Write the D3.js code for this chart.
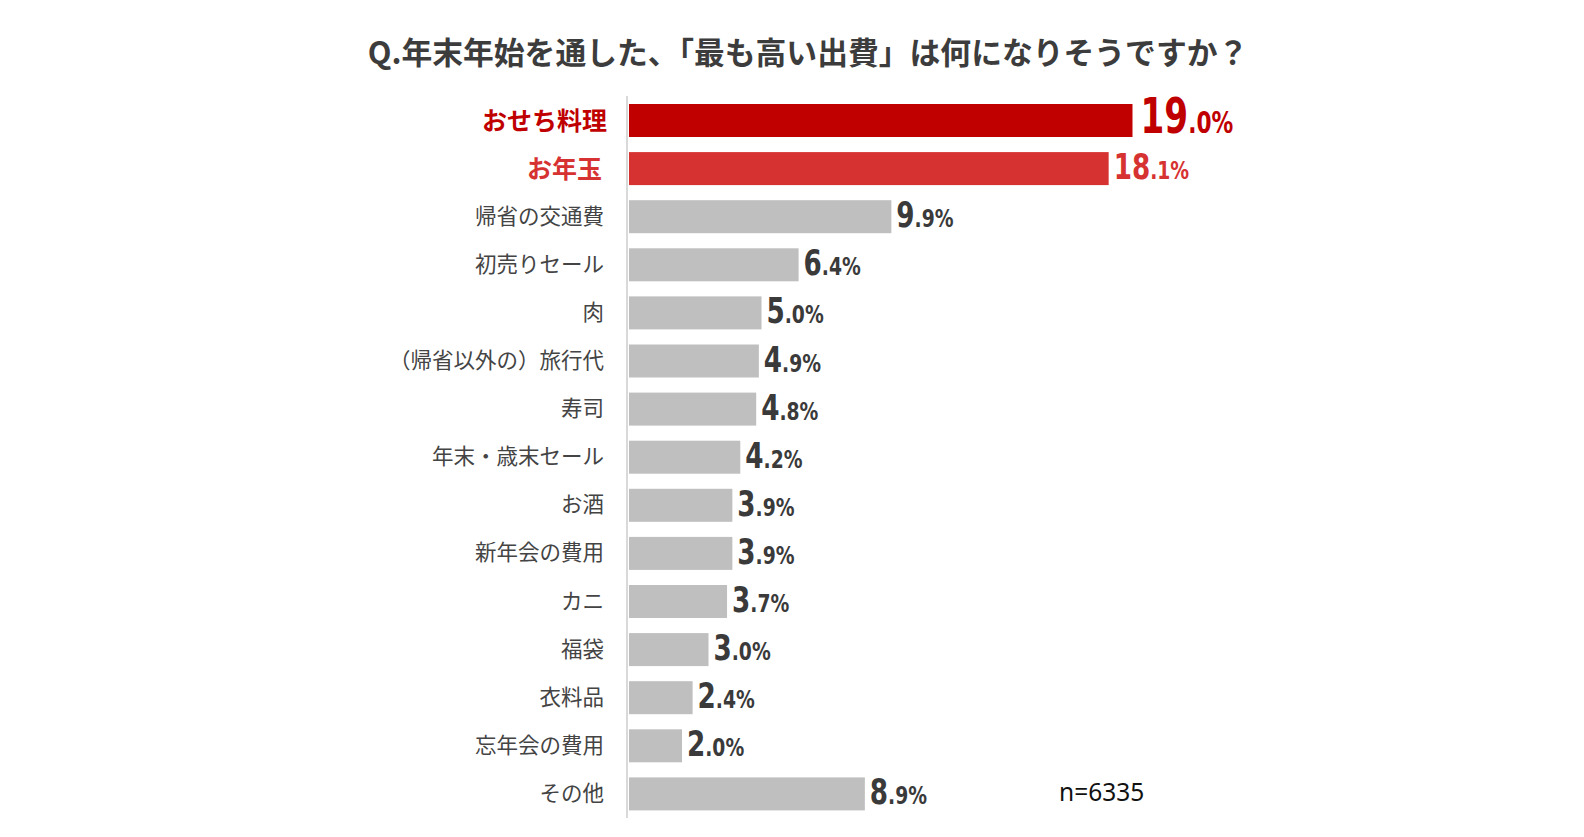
<!DOCTYPE html>
<html>
<head>
<meta charset="utf-8">
<script src="https://cdn.jsdelivr.net/npm/d3@7"></script>
<style>
  body { margin: 0; background: #fff; }
</style>
</head>
<body>
<div id="chart"></div>
<script>
// Data
const categories = ["おせち料理", "お年玉", "帰省の交通費", "初売りセール", "肉",
                    "（帰省以外の）旅行代", "寿司", "年末・歳末セール", "お酒", "新年会の費用",
                    "カニ", "福袋", "衣料品", "忘年会の費用", "その他"];
const values = [19.0, 18.1, 9.9, 6.4, 5.0, 4.9, 4.8, 4.2, 3.9, 3.9, 3.7, 3.0, 2.4, 2.0, 8.9];
const titleText = "Q.年末年始を通した、「最も高い出費」は何になりそうですか？";
const sampleText = "n=6335";

// Constant dimensions
const width = 1584, height = 837;
const margin = { top: 104, left: 629 };
const step = 48.1, barH = 33;

const svg = d3.select("#chart").append("svg")
    .attr("width", width)
    .attr("height", height);

const x = d3.scaleLinear([0, 19], [margin.left, margin.left + 503.5]);
// each bar starts at top + i*step
const yTop = d => margin.top + categories.indexOf(d) * step;

function barColor(i) {
    if (i === 0) return "#c00000";
    if (i === 1) return "#d73232";
    return "#bfbfbf";
}
function textColor(i) {
    if (i === 0) return "#c00000";
    if (i === 1) return "#d73232";
    return "#3a3a3a";
}

// Title
svg.append("text")
    .attr("x", 808)
    .attr("y", 64)
    .attr("text-anchor", "middle")
    .attr("font-family", "'Noto Sans CJK JP', sans-serif")
    .attr("font-weight", 700)
    .attr("font-size", 30.8)
    .attr("fill", "#3c3c3c")
    .text(titleText);

// Axis line
svg.append("line")
    .attr("x1", margin.left - 2).attr("x2", margin.left - 2)
    .attr("y1", 96).attr("y2", 818)
    .attr("stroke", "#d9d9d9")
    .attr("stroke-width", 2);

const data = categories.map((c, i) => ({ cat: c, v: values[i], i: i }));

// Bars
svg.append("g")
    .selectAll("rect")
    .data(data)
    .join("rect")
    .attr("x", x(0))
    .attr("y", d => yTop(d.cat))
    .attr("width", d => x(d.v) - x(0))
    .attr("height", barH)
    .attr("fill", d => barColor(d.i));

// Category labels
svg.append("g")
    .attr("font-family", "'Noto Sans CJK JP', sans-serif")
    .attr("text-anchor", "end")
    .selectAll("text")
    .data(data)
    .join("text")
    .attr("x", d => d.i < 2 ? (d.i === 0 ? 607 : 602) : 604)
    .attr("y", d => yTop(d.cat) + barH / 2)
    .attr("dy", d => d.i < 2 ? "0.36em" : "0.33em")
    .attr("font-size", d => d.i < 2 ? 25 : 21.5)
    .attr("font-weight", d => d.i < 2 ? 700 : 400)
    .attr("fill", d => d.i < 2 ? textColor(d.i) : "#444")
    .text(d => d.cat);

// Value labels: large integer part, small decimals, condensed
const vl = svg.append("g")
    .attr("font-family", "'DejaVu Sans', sans-serif")
    .attr("font-weight", 700)
    .selectAll("text")
    .data(data)
    .join("text")
    .attr("transform", d => `translate(${x(d.v) + (d.i === 0 ? 8 : 5)},${yTop(d.cat) + barH - (d.i === 0 ? 4 : 6)}) scale(${d.i === 0 ? 0.7 : 0.75},1)`)
    .attr("fill", d => textColor(d.i));

vl.append("tspan")
    .attr("font-size", d => d.i === 0 ? 49 : 35)
    .text(d => String(Math.floor(d.v)));
vl.append("tspan")
    .attr("font-size", d => d.i === 0 ? 31 : 25)
    .text(d => "." + Math.round((d.v % 1) * 10) + "%");

// Sample size
svg.append("text")
    .attr("x", 1059)
    .attr("y", 801)
    .attr("font-family", "'Noto Sans', sans-serif")
    .attr("font-size", 24.5)
    .attr("fill", "#111")
    .text(sampleText);
</script>
</body>
</html>
